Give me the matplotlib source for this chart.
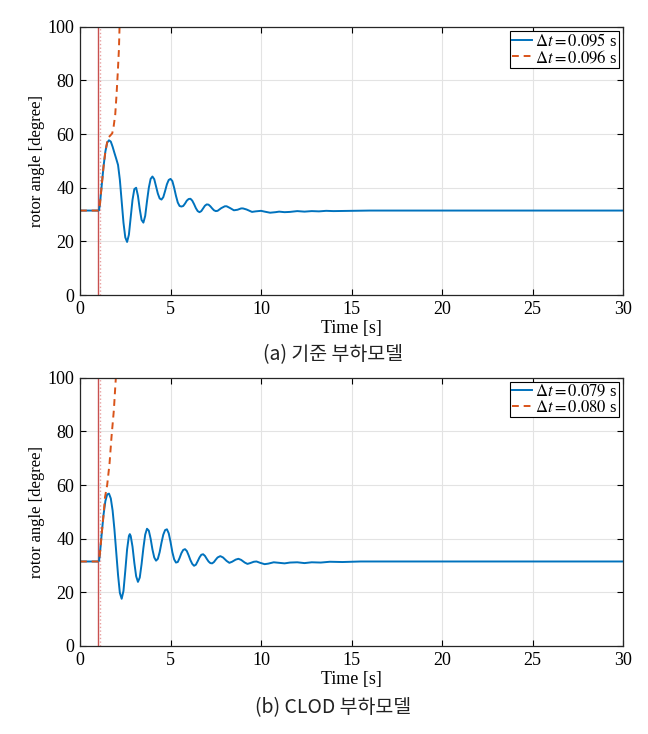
import numpy as np
import matplotlib
matplotlib.use('Agg')
import matplotlib.pyplot as plt

plt.rcParams['font.family'] = ['Liberation Serif', 'DejaVu Serif']
plt.rcParams['mathtext.fontset'] = 'stix'

# ---- data ----
fault_start = 1.0
dt_a = [0.095, 0.096]
dt_b = [0.079, 0.080]

# (a) stable case
ta_stable = [0, 1.0, 1.05, 1.1, 1.2, 1.3, 1.4, 1.5, 1.6, 1.7, 1.8, 1.9, 2.0, 2.1, 2.2, 2.3, 2.4, 2.5, 2.6, 2.7,
             2.8, 2.9, 3.0, 3.1, 3.2, 3.3, 3.4, 3.5, 3.6, 3.7, 3.8, 3.9, 4.0, 4.1, 4.2, 4.3, 4.4, 4.5, 4.6, 4.7,
             4.8, 4.9, 5.0, 5.1, 5.2, 5.3, 5.4, 5.5, 5.6, 5.7, 5.8, 5.9, 6.0, 6.1, 6.2, 6.3, 6.4, 6.5, 6.6, 6.7,
             6.8, 6.9, 7.0, 7.1, 7.2, 7.3, 7.4, 7.5, 7.6, 7.8, 8.0, 8.1, 8.3, 8.5, 8.7, 8.9, 9.0, 9.2, 9.5, 9.7,
             10.0, 10.2, 10.5, 10.8, 11.0, 11.3, 11.6, 12.0, 12.4, 12.8, 13.2, 13.6, 14.0, 15.0, 16.0, 30.0]
ya_stable = [31.5, 31.5, 31.6, 34.0, 41.0, 48.0, 53.5, 56.8, 57.7, 57.2, 55.3, 53.0, 50.8, 48.5, 43.0, 35.0, 27.0, 21.5, 19.8, 22.5,
             29.0, 35.5, 39.5, 40.0, 37.0, 32.0, 28.0, 27.0, 29.5, 35.0, 40.0, 43.3, 44.2, 43.2, 40.5, 37.8, 36.0, 35.6, 36.5, 38.8,
             41.3, 42.9, 43.3, 42.5, 40.0, 37.0, 34.5, 33.2, 33.0, 33.2, 34.1, 35.2, 35.8, 35.9, 35.2, 33.9, 32.4, 31.3, 30.9, 31.3,
             32.3, 33.3, 33.8, 33.7, 33.1, 32.3, 31.6, 31.3, 31.4, 32.4, 33.1, 33.1, 32.4, 31.6, 31.8, 32.3, 32.3, 31.9, 31.0, 31.2,
             31.4, 31.1, 30.7, 30.9, 31.1, 30.9, 31.0, 31.3, 31.1, 31.3, 31.2, 31.4, 31.3, 31.4, 31.5, 31.5]
# (a) unstable case
ta_unstable = [0, 1.0, 1.05, 1.1, 1.2, 1.3, 1.4, 1.5, 1.56, 1.65, 1.78, 1.86, 1.945, 2.02, 2.09, 2.15, 2.18, 2.22]
ya_unstable = [31.5, 31.5, 31.6, 34.0, 41.0, 48.0, 53.5, 57.0, 58.7, 59.3, 60.3, 63.0, 67.3, 75.0, 83.5, 91.8, 99.3, 106.0]

# (b) stable case
tb_stable = [0, 1.0, 1.05, 1.1, 1.2, 1.3, 1.4, 1.5, 1.6, 1.7, 1.8, 1.9, 2.0, 2.1, 2.2, 2.3, 2.4, 2.5, 2.6, 2.7,
             2.75, 2.8, 2.9, 3.0, 3.1, 3.2, 3.3, 3.4, 3.5, 3.6, 3.7, 3.8, 3.9, 4.0, 4.1, 4.2, 4.3, 4.4, 4.5, 4.6,
             4.7, 4.8, 4.9, 5.0, 5.1, 5.2, 5.3, 5.4, 5.5, 5.6, 5.7, 5.8, 5.9, 6.0, 6.1, 6.2, 6.3, 6.4, 6.5, 6.6,
             6.7, 6.8, 6.9, 7.0, 7.1, 7.2, 7.3, 7.4, 7.5, 7.6, 7.75, 7.9, 8.1, 8.25, 8.4, 8.6, 8.75, 8.9, 9.1, 9.25,
             9.4, 9.6, 9.75, 9.95, 10.2, 10.4, 10.7, 11.0, 11.3, 11.6, 12.0, 12.4, 12.8, 13.3, 13.8, 14.5, 15.5, 30.0]
yb_stable = [31.5, 31.5, 31.7, 34.5, 42.0, 49.0, 54.0, 56.5, 56.8, 55.0, 50.5, 43.5, 35.0, 26.5, 19.8, 17.6, 20.5, 28.0, 36.0, 41.0,
             41.7, 41.0, 37.0, 31.0, 26.0, 23.9, 25.5, 30.5, 36.5, 41.5, 43.7, 43.0, 40.0, 36.0, 33.0, 31.8, 32.5, 35.0, 38.5, 41.5,
             43.2, 43.5, 42.0, 38.8, 35.0, 32.3, 31.1, 31.3, 32.8, 34.6, 35.8, 36.1, 35.4, 33.8, 32.0, 30.6, 29.9, 30.3, 31.6, 33.0,
             34.0, 34.2, 33.6, 32.5, 31.5, 30.9, 30.8, 31.3, 32.2, 33.0, 33.5, 33.0, 31.7, 31.0, 31.4, 32.2, 32.5, 32.1, 31.1, 30.6,
             30.9, 31.4, 31.5, 31.0, 30.5, 30.7, 31.2, 31.0, 30.8, 31.1, 31.2, 30.9, 31.2, 31.1, 31.4, 31.3, 31.5, 31.5]
# (b) unstable case
tb_unstable = [0, 1.0, 1.05, 1.1, 1.2, 1.3, 1.38, 1.5, 1.63, 1.74, 1.87, 1.96, 2.02]
yb_unstable = [31.5, 31.5, 31.7, 34.5, 42.0, 49.0, 55.5, 60.0, 68.0, 78.0, 88.0, 98.0, 104.0]

captions = ['(a) 기준 부하모델', '(b) CLOD 부하모델']

blue = '#0072BD'
orange = '#D95319'

fig = plt.figure(figsize=(6.48, 7.34), dpi=100)
ax1 = fig.add_axes([0.1235, 0.598, 0.838, 0.3655])
ax2 = fig.add_axes([0.1235, 0.1199, 0.838, 0.3655])

panels = [(ax1, ta_stable, ya_stable, ta_unstable, ya_unstable, dt_a, captions[0], 0.517),
          (ax2, tb_stable, yb_stable, tb_unstable, yb_unstable, dt_b, captions[1], 0.036)]

for ax, ts, ys, tu, yu, dts, cap, cap_y in panels:
    ax.axvline(fault_start, color='#c8504f', lw=1.0, zorder=1)
    ax.axvline(fault_start + dts[0], color='#e8a0a0', lw=1.0, ls=':', zorder=1)
    ax.plot(ts, ys, color=blue, lw=1.4, label=r'$\Delta t = %.3f$ s' % dts[0])
    ax.plot(tu, yu, color=orange, lw=1.4, ls=(0, (3.5, 2.5)), label=r'$\Delta t = %.3f$ s' % dts[1])
    ax.set_xlim(0, 30)
    ax.set_ylim(0, 100)
    ax.set_xticks([0, 5, 10, 15, 20, 25, 30])
    ax.set_yticks([0, 20, 40, 60, 80, 100])
    ax.grid(True, color='#e3e3e3', lw=0.8)
    ax.set_axisbelow(True)
    ax.tick_params(direction='in', top=True, right=True, length=4, width=0.8, labelsize=13, pad=4)
    for s in ax.spines.values():
        s.set_linewidth(0.9)
        s.set_color('#262626')
    ax.set_xlabel('Time [s]', fontsize=13, labelpad=2)
    ax.set_ylabel('rotor angle [degree]', fontsize=12, labelpad=2)
    leg = ax.legend(loc='upper right', fontsize=12, frameon=True, fancybox=False, framealpha=1,
                    edgecolor='black', borderpad=0.1, handlelength=1.2, handletextpad=0.2,
                    labelspacing=0.0, borderaxespad=0.25)
    leg.get_frame().set_linewidth(0.8)
    fig.text(0.514, cap_y, cap, ha='center', va='center', fontsize=14,
             family=['Noto Sans CJK KR', 'DejaVu Sans'], fontweight='light', color='#222222')

fig.savefig('out.png', dpi=100)
